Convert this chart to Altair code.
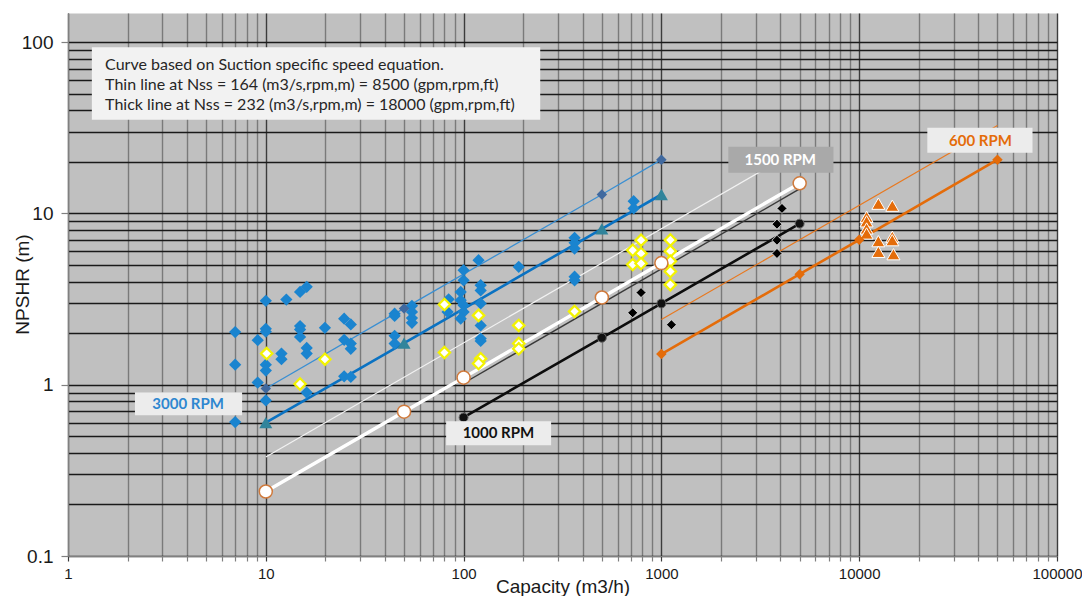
import altair as alt
import pandas as pd

# ---------------- data ----------------
# 3000 RPM pump data (blue diamonds)
blue_q = [7, 7, 7,
          10, 10, 10, 10, 10, 10,
          9.1, 9.1,
          12.7,
          12, 12,
          14.9, 14.9, 14.9, 14.9,
          16.1, 16.1, 16.1, 16.1,
          19.9,
          24.9, 24.9, 24.9,
          26.9, 26.9, 26.9, 26.9,
          44.8, 44.8, 44.8, 44.8,
          54.8, 54.8, 54.8, 54.8,
          84, 83,
          100, 100, 100, 100,
          96.7, 96.7, 96.7,
          119,
          122, 122, 122, 122, 122, 122,
          190,
          364, 364, 364, 364, 364,
          724, 724]
blue_h = [2.03, 1.31, 0.605,
          3.09, 2.12, 2.04, 1.31, 1.21, 0.81,
          1.82, 1.03,
          3.14,
          1.52, 1.41,
          3.48, 2.2, 2.1, 1.9,
          3.73, 1.64, 1.52, 0.9,
          2.15,
          2.43, 1.83, 1.12,
          2.25, 1.74, 1.62, 1.11,
          2.6, 2.52, 1.93, 1.74,
          2.89, 2.66, 2.45, 2.3,
          3.15, 2.66,
          4.66, 4.07, 2.91, 2.66,
          3.48, 3.11, 2.43,
          5.33,
          3.81, 3.55, 2.98, 2.22, 1.86, 1.8,
          4.88,
          7.21, 6.74, 6.24, 4.27, 4.07,
          11.8, 10.7]

# 1500 RPM pump data (yellow diamonds)
yel_q = [10.1, 19.9, 14.9, 80, 119, 80, 122, 119, 190, 190, 190, 364,
         716, 789, 789, 716, 789, 1110, 1110, 1110, 1110, 1110]
yel_h = [1.52, 1.41, 1.01, 2.94, 2.54, 1.54, 1.42, 1.33, 2.22, 1.74, 1.62, 2.68,
         6.1, 6.98, 5.84, 5.03, 5.1, 7.0, 6.02, 5.26, 4.58, 3.84]

# 1000 RPM pump data (black diamonds)
blk_q = [4070, 3840, 3840, 3840, 789, 716, 1124]
blk_h = [10.7, 8.66, 6.98, 5.84, 3.45, 2.63, 2.24]

# 600 RPM pump data (orange triangles)
org_q = [12500, 14700, 10900, 10900, 10900, 10900, 12500, 14700, 14700, 12500, 14900]
org_h = [11.4, 11.1, 9.56, 9.0, 8.17, 7.64, 6.89, 7.31, 6.98, 5.97, 5.78]

# Suction-specific-speed curves (thin: Nss=164, thick: Nss=232)
thin3000_q = [10, 50, 500, 1000]
thin3000_h = [0.95, 2.79, 12.9, 20.6]
thick3000_q = [10, 50, 500, 1000]
thick3000_h = [0.60, 1.75, 8.13, 12.9]
thin1500_q = [10, 5000]
thin1500_h = [0.378, 23.8]
thick1500_q = [10, 50, 100, 500, 1000, 5000]
thick1500_h = [0.238, 0.696, 1.10, 3.23, 5.13, 15.0]
thin1000_q = [100, 5000]
thin1000_h = [1.02, 13.9]
thick1000_q = [100, 500, 1000, 5000]
thick1000_h = [0.644, 1.88, 2.98, 8.72]
thin600_q = [1000, 50000]
thin600_h = [2.40, 32.6]
thick600_q = [1000, 5000, 10000, 50000]
thick600_h = [1.51, 4.42, 7.02, 20.6]

# tick values of the log axes
x_tick_values = [1, 2, 3, 4, 5, 6, 7, 8, 9,
                 10, 20, 30, 40, 50, 60, 70, 80, 90,
                 100, 200, 300, 400, 500, 600, 700, 800, 900,
                 1000, 2000, 3000, 4000, 5000, 6000, 7000, 8000, 9000,
                 10000, 20000, 30000, 40000, 50000, 60000, 70000, 80000, 90000,
                 100000]
y_tick_values = [0.1, 0.2, 0.3, 0.4, 0.5, 0.6, 0.7, 0.8, 0.9,
                 1, 2, 3, 4, 5, 6, 7, 8, 9,
                 10, 20, 30, 40, 50, 60, 70, 80, 90,
                 100]

# annotations (placed in data coordinates)
note_lines = ["Curve based on Suction specific speed equation.",
              "Thin line at Nss = 164 (m3/s,rpm,m)  = 8500 (gpm,rpm,ft)",
              "Thick line at Nss = 232 (m3/s,rpm,m)  = 18000 (gpm,rpm,ft)"]
note_q = [1.54, 1.54, 1.54]
note_h = [73.5, 55.9, 43.1]
note_box = {"q1": [1.32], "q2": [244], "h1": [35.2], "h2": [93.5]}

rpm_text = ["3000 RPM", "1500 RPM", "1000 RPM", "600 RPM"]
rpm_q = [4.05, 3990, 150, 41000]
rpm_h = [0.769, 20.6, 0.520, 26.5]
rpm_q1 = [2.18, 2180, 81.6, 22100]
rpm_q2 = [7.59, 7410, 277, 75200]
rpm_h1 = [0.663, 17.3, 0.443, 22.6]
rpm_h2 = [0.904, 24.5, 0.612, 31.6]
rpm_box_color = ["#ececec", "#a9a9a9", "#ececec", "#ececec"]
rpm_text_color = ["#2e87d0", "#ffffff", "#111111", "#e46c0a"]

# ---------------- scales & axes ----------------
X_SCALE = alt.Scale(type="log", domain=[1, 100000], nice=False)
Y_SCALE = alt.Scale(type="log", domain=[0.1, 148], nice=False)

MAJ_X = "indexof([1, 10, 100, 1000, 10000, 100000], datum.value) >= 0"
MAJ_Y = "indexof([0.1, 1, 10, 100], datum.value) >= 0"

x_axis = alt.Axis(
    values=x_tick_values,
    title="Capacity (m3/h)",
    labelExpr=MAJ_X + " ? format(datum.value, 'd') : ''",
    labelFlush=False, labelOverlap=False,
    labelFont="Liberation Sans", labelFontSize=15, labelColor="#1a1a1a", labelPadding=5,
    tickSize=5, tickWidth=1.2,
    tickColor={"condition": {"test": MAJ_X, "value": "#3c3c3c"}, "value": "#808080"},
    grid=True, gridWidth=1.4,
    gridColor={"condition": {"test": MAJ_X, "value": "#3c3c3c"}, "value": "#7a7a7a"},
    domainColor="#808080", domainWidth=1.2,
    titleFont="Liberation Sans", titleFontSize=19, titleFontWeight="normal",
    titleColor="#1a1a1a", titleY=36, titleBaseline="alphabetic",
)
y_axis = alt.Axis(
    values=y_tick_values,
    title="NPSHR (m)",
    labelExpr=MAJ_Y + " ? (datum.value < 1 ? format(datum.value, '.1f') : format(datum.value, 'd')) : ''",
    labelFlush=False, labelOverlap=False,
    labelFont="Liberation Sans", labelFontSize=19, labelColor="#1a1a1a", labelPadding=8,
    tickSize=7, tickWidth=1.2,
    tickColor={"condition": {"test": MAJ_Y, "value": "#808080"}, "value": "transparent"},
    grid=True, gridWidth=1.3, gridColor="#1a1a1a",
    domainColor="#808080", domainWidth=1.2,
    titleFont="Liberation Sans", titleFontSize=19, titleFontWeight="normal",
    titleColor="#1a1a1a", titleX=-36, titleY=271, titleBaseline="bottom",
)


def enc_x(field):
    return alt.X(field, type="quantitative", scale=X_SCALE, axis=x_axis)


def enc_y(field):
    return alt.Y(field, type="quantitative", scale=Y_SCALE, axis=y_axis)


def frame(q, h):
    return pd.DataFrame({"q": q, "h": h})


def line(q, h, color, width):
    return alt.Chart(frame(q, h)).mark_line(color=color, strokeWidth=width).encode(
        x=enc_x("q"), y=enc_y("h"))


def points(q, h, shape, size, fill, stroke="transparent", sw=0.0):
    return alt.Chart(frame(q, h)).mark_point(
        shape=shape, size=size, filled=True, fill=fill, stroke=stroke,
        strokeWidth=sw, opacity=1).encode(x=enc_x("q"), y=enc_y("h"))


layers = [
    # curves
    line(thin3000_q, thin3000_h, "#3a8fd2", 1.3),
    line(thick3000_q, thick3000_h, "#0a72c2", 2.6),
    line(thin1500_q, thin1500_h, "#f2f2f2", 1.2),
    line(thin1000_q, thin1000_h, "#3a3a3a", 1.4),
    line(thick1500_q, thick1500_h, "#ffffff", 3.4),
    line(thick1000_q, thick1000_h, "#0d0d0d", 2.6),
    line(thin600_q, thin600_h, "#e8781f", 1.2),
    line(thick600_q, thick600_h, "#e46c0a", 2.6),
    # data points
    points(blue_q, blue_h, "diamond", 150, "#1a84cf"),
    points(yel_q, yel_h, "diamond", 130, "#ffffff", "#f3f300", 2.2),
    points(blk_q, blk_h, "diamond", 100, "#000000", "#e6e6e6", 0.8),
    points(org_q, org_h, "triangle-up", 170, "#e46c0a", "#ffffff", 1.0),
    # curve markers
    points(thin3000_q, thin3000_h, "diamond", 110, "#40699f"),
    points(thick3000_q, thick3000_h, "triangle-up", 170, "#31849b"),
    points(thick1500_q, thick1500_h, "circle", 170, "#ffffff", "#d07a3c", 1.5),
    points(thick1000_q, thick1000_h, "circle", 80, "#111111", "#666666", 1.0),
    points(thick600_q, thick600_h, "diamond", 110, "#e46c0a"),
]

# note box
note_box_df = pd.DataFrame(note_box)
layers.append(
    alt.Chart(note_box_df).mark_rect(color="#f2f2f2", opacity=1).encode(
        x=enc_x("q1"), x2="q2", y=enc_y("h1"), y2="h2"))
note_df = pd.DataFrame({"q": note_q, "h": note_h, "t": note_lines})
layers.append(
    alt.Chart(note_df).mark_text(align="left", baseline="middle", font="Lato",
                                 fontSize=16, color="#262626").encode(
        x=enc_x("q"), y=enc_y("h"), text="t:N"))

# rpm labels
rpm_df = pd.DataFrame({"q": rpm_q, "h": rpm_h, "q1": rpm_q1, "q2": rpm_q2,
                       "h1": rpm_h1, "h2": rpm_h2, "t": rpm_text,
                       "bc": rpm_box_color, "tc": rpm_text_color})
layers.append(
    alt.Chart(rpm_df).mark_rect(opacity=1).encode(
        x=enc_x("q1"), x2="q2", y=enc_y("h1"), y2="h2",
        color=alt.Color("bc:N", scale=None)))
layers.append(
    alt.Chart(rpm_df).mark_text(align="center", baseline="middle", font="Lato",
                                fontSize=15, fontWeight="bold").encode(
        x=enc_x("q"), y=enc_y("h"), text="t:N",
        color=alt.Color("tc:N", scale=None)))

chart = alt.layer(*layers).properties(
    width=989, height=543,
    padding={"left": 60, "top": 5, "right": 25, "bottom": 40},
    autosize=alt.AutoSizeParams(type="none"),
    background="#ffffff",
).configure_view(fill="#c0c0c0", stroke="transparent")

chart.save("out.html", embed_options={"renderer": "svg", "actions": False})
